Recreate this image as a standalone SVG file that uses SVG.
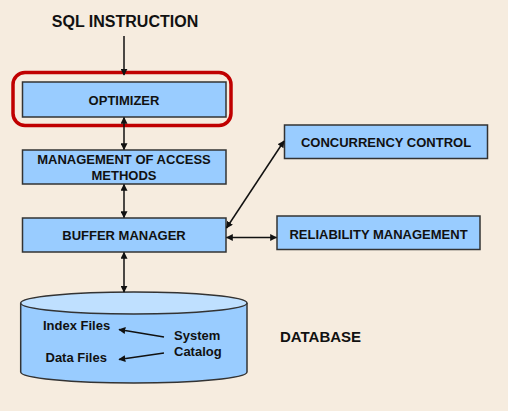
<svg xmlns="http://www.w3.org/2000/svg" width="508" height="411" viewBox="0 0 508 411">
  <style>
    .box { fill: #99ccff; stroke: #333333; stroke-width: 1.5; }
    .lbl { font-family: "Liberation Sans", Arial, sans-serif; font-weight: bold; font-size: 13px; fill: #111111; text-anchor: middle; }
    .big { font-family: "Liberation Sans", Arial, sans-serif; font-weight: bold; font-size: 16px; fill: #111111; }
    .db  { font-family: "Liberation Sans", Arial, sans-serif; font-weight: bold; font-size: 13px; fill: #111111; }
    .wire { stroke: #111111; stroke-width: 1.5; fill: none; }
  </style>
  <defs>
    <marker id="head" viewBox="0 0 10 10" refX="9" refY="5" markerWidth="7" markerHeight="7" markerUnits="userSpaceOnUse" orient="auto-start-reverse">
      <path d="M0,0 L10,5 L0,10 Z" fill="#111111"/>
    </marker>
  </defs>

  <rect x="0" y="0" width="508" height="411" fill="#f6ecdf"/>

  <text class="big" x="125" y="27" text-anchor="middle">SQL INSTRUCTION</text>

  <!-- highlight ring around the optimizer -->
  <rect x="13" y="72.5" width="218" height="53" rx="12" ry="12" fill="none" stroke="#c00000" stroke-width="3.5"/>

  <g id="optimizer">
    <rect class="box" x="22.5" y="82" width="203.5" height="35"/>
    <text class="lbl" x="124" y="104.5">OPTIMIZER</text>
  </g>

  <g id="access-methods">
    <rect class="box" x="22.5" y="150" width="203.5" height="34"/>
    <text class="lbl" x="124" y="164">MANAGEMENT OF ACCESS</text>
    <text class="lbl" x="124" y="179.5">METHODS</text>
  </g>

  <g id="buffer-manager">
    <rect class="box" x="22.5" y="218" width="203.5" height="34"/>
    <text class="lbl" x="124" y="240">BUFFER MANAGER</text>
  </g>

  <g id="concurrency-control">
    <rect class="box" x="284.5" y="125" width="203" height="33.5"/>
    <text class="lbl" x="386" y="147">CONCURRENCY CONTROL</text>
  </g>

  <g id="reliability-management">
    <rect class="box" x="277" y="216" width="203" height="33.5"/>
    <text class="lbl" x="378.5" y="238.5">RELIABILITY MANAGEMENT</text>
  </g>

  <g id="database">
    <path class="box" d="M20.7,303 L20.7,372 A113.1,11 0 0 0 247,372 L247,303"/>
    <ellipse cx="133.85" cy="303" rx="113.15" ry="11" fill="#bfe0ff" stroke="#333333" stroke-width="1.5"/>
    <text class="db" x="43" y="330">Index Files</text>
    <text class="db" x="45.5" y="362">Data Files</text>
    <text class="db" x="174" y="340">System</text>
    <text class="db" x="174" y="356">Catalog</text>
    <line class="wire" x1="164" y1="337" x2="119" y2="329.5" marker-end="url(#head)"/>
    <line class="wire" x1="164" y1="353" x2="119" y2="359.5" marker-end="url(#head)"/>
  </g>

  <text class="big" x="280" y="342" font-size="15" style="font-size:15px">DATABASE</text>

  <g id="connectors">
    <line class="wire" x1="124" y1="36" x2="124" y2="75" marker-end="url(#head)"/>
    <line class="wire" x1="124" y1="117.5" x2="124" y2="149.5" marker-start="url(#head)" marker-end="url(#head)"/>
    <line class="wire" x1="124" y1="184.5" x2="124" y2="217.5" marker-start="url(#head)" marker-end="url(#head)"/>
    <line class="wire" x1="124" y1="252.5" x2="124" y2="292" marker-start="url(#head)" marker-end="url(#head)"/>
    <line class="wire" x1="226.5" y1="228" x2="284" y2="141" marker-start="url(#head)" marker-end="url(#head)"/>
    <line class="wire" x1="226.5" y1="237.5" x2="276.5" y2="237.5" marker-start="url(#head)" marker-end="url(#head)"/>
  </g>
</svg>
